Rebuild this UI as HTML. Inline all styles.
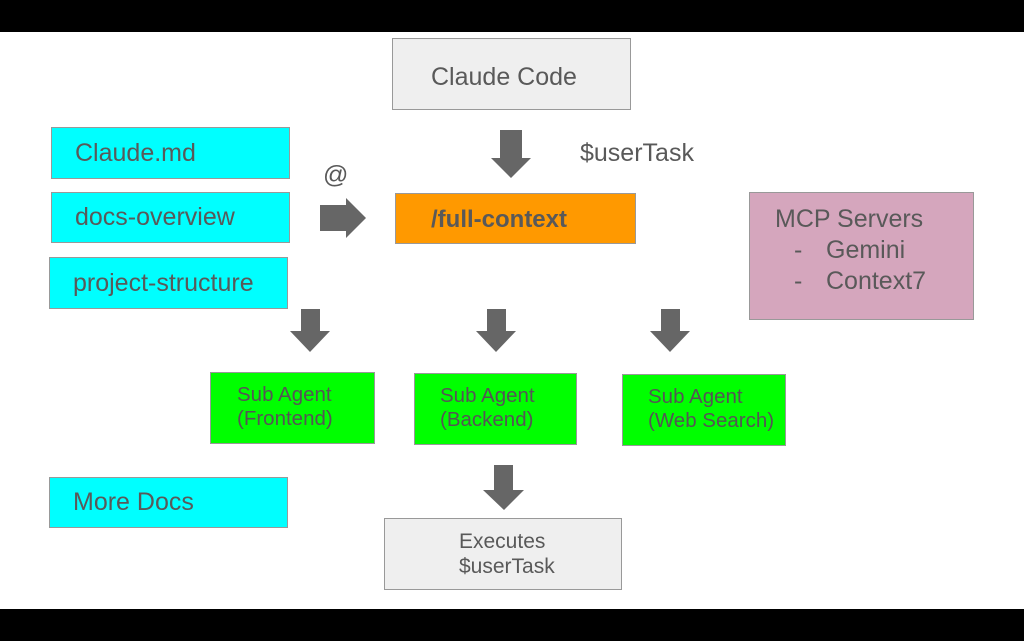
<!DOCTYPE html>
<html><head><style>
body{margin:0;width:1024px;height:641px;background:#fff;position:relative;overflow:hidden;font-family:"Liberation Sans",Arial,sans-serif;color:#595959}
.bar{position:absolute;left:0;width:1024px;background:#000}
.b{position:absolute;box-sizing:border-box;border:1.5px solid #999;}
.c{background:#00ffff;font-size:25px;line-height:1}
.g{background:#00ff00;font-size:20.5px;line-height:24px;color:#555}
.t{position:absolute;font-size:25px}
svg{position:absolute;left:0;top:0}
</style></head><body>
<div class="bar" style="top:0;height:32px"></div>
<div class="bar" style="top:609px;height:32px"></div>
<div class="b" style="left:392px;top:38px;width:239px;height:72px;background:#efefef;font-size:25px;padding:24px 0 0 38px">Claude Code</div>
<div class="b c" style="left:51px;top:127px;width:239px;height:52px;padding:13px 0 0 23px">Claude.md</div>
<div class="b c" style="left:51px;top:192px;width:239px;height:51px;padding:12px 0 0 23px">docs-overview</div>
<div class="b c" style="left:49px;top:257px;width:239px;height:52px;padding:13px 0 0 23px">project-structure</div>
<div class="b c" style="left:49px;top:477px;width:239px;height:51px;padding:12px 0 0 23px">More Docs</div>
<div class="b" style="left:395px;top:193px;width:241px;height:51px;background:#ff9900;font-size:24px;font-weight:bold;padding:12px 0 0 35px">/full-context</div>
<div class="b" style="left:749px;top:192px;width:225px;height:128px;background:#d5a6bd;font-size:25px;line-height:31px;padding:11px 0 0 25px">MCP Servers
<div style="position:absolute;left:44px;top:42px">-</div><div style="position:absolute;left:76px;top:42px">Gemini</div>
<div style="position:absolute;left:44px;top:73px">-</div><div style="position:absolute;left:76px;top:73px">Context7</div></div>
<div class="b g" style="left:210px;top:372px;width:165px;height:72px;padding:10px 0 0 26px">Sub Agent<br>(Frontend)</div>
<div class="b g" style="left:414px;top:373px;width:163px;height:72px;padding:10px 0 0 25px">Sub Agent<br>(Backend)</div>
<div class="b g" style="left:622px;top:374px;width:164px;height:72px;padding:10px 0 0 25px">Sub Agent<br>(Web Search)</div>
<div class="b" style="left:384px;top:518px;width:238px;height:72px;background:#efefef;font-size:21px;line-height:25px;padding:10px 0 0 74px">Executes<br>$userTask</div>
<div class="t" style="left:580px;top:139px">$userTask</div>
<div class="t" style="left:323px;top:161px;font-size:25px">@</div>
<svg width="1024" height="641" fill="#666">
<polygon points="500,130 522,130 522,158 531,158 511,178 491,158 500,158"/>
<polygon points="320,205 346,205 346,198 366,218 346,238 346,231 320,231"/>
<polygon points="301,309 320,309 320,331 330,331 310,352 290,331 301,331"/>
<polygon points="487,309 506,309 506,331 516,331 496,352 476,331 487,331"/>
<polygon points="661,309 680,309 680,331 690,331 670,352 650,331 661,331"/>
<polygon points="494,465 513,465 513,490 524,490 504,510 483,490 494,490"/>
</svg>
</body></html>
